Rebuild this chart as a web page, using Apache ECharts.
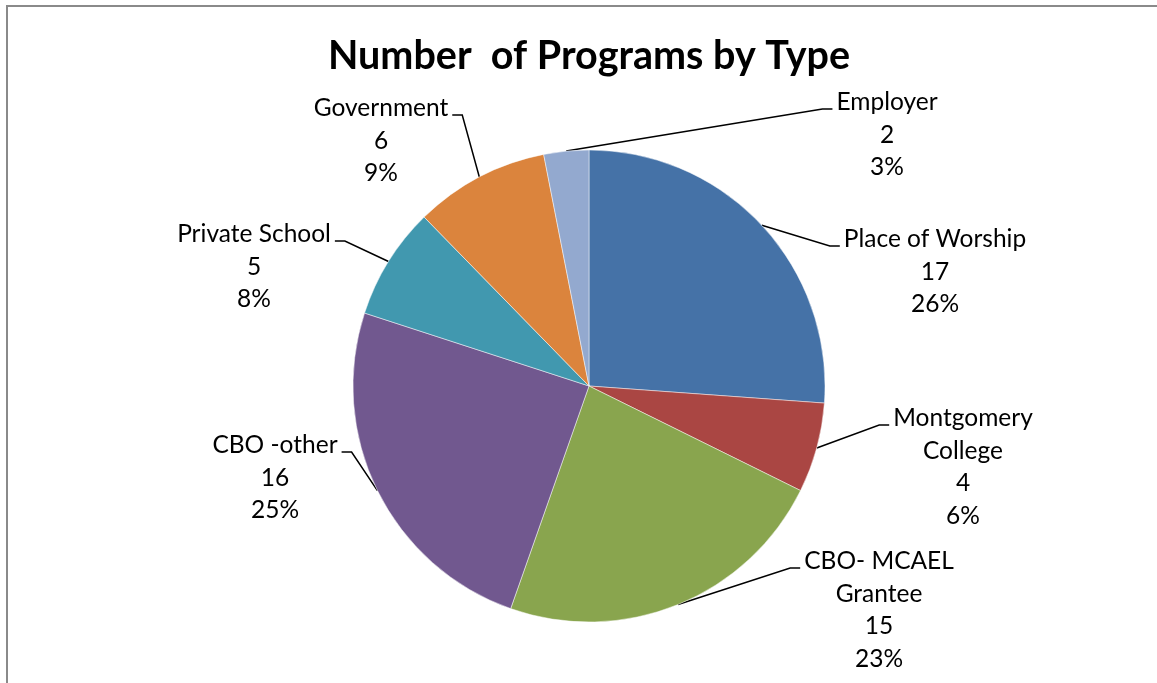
<!DOCTYPE html>
<html>
<head>
<meta charset="utf-8">
<script src="https://cdn.jsdelivr.net/npm/echarts@6/dist/echarts.min.js"></script>
<style>
html,body{margin:0;padding:0;background:#fff;}
#chart{width:1157px;height:683px;}
</style>
</head>
<body>
<div id="chart"></div>
<script>
// ---- data ----
var categories = ['Place of Worship', 'Montgomery\nCollege', 'CBO- MCAEL\nGrantee', 'CBO -other', 'Private School', 'Government', 'Employer'];
var values = [17, 4, 15, 16, 5, 6, 2];
var colors = ['#4572A7', '#AA4643', '#89A54E', '#71588F', '#4198AF', '#DB843D', '#93A9CF'];
var chartTitle = 'Number  of Programs by Type';

// ---- label placement (style, not data): [center x, top y, side] ----
var labelPlacement = [
  [935, 223, 'r'],
  [963, 402, 'r'],
  [879, 545, 'r'],
  [275, 429, 'l'],
  [254, 218, 'l'],
  [381, 92, 'l'],
  [887, 86, 'r']
];

var seriesData = categories.map(function (c, i) {
  return { name: c, value: values[i], itemStyle: { color: colors[i] } };
});

var chart = echarts.init(document.getElementById('chart'));
chart.setOption({
  backgroundColor: '#ffffff',
  animation: false,
  title: {
    text: chartTitle,
    left: 323,
    top: 31,
    textStyle: { fontFamily: 'Lato', fontWeight: 'bold', fontSize: 39.5, color: '#000' }
  },
  graphic: [{
    type: 'rect',
    shape: { x: 7, y: 6, width: 1400, height: 1000 },
    style: { fill: 'none', stroke: '#8a8a8a', lineWidth: 2 },
    silent: true
  }],
  series: [{
    type: 'pie',
    center: [589, 386],
    radius: 236,
    startAngle: 90,
    clockwise: true,
    data: seriesData,
    itemStyle: { borderColor: 'rgba(255,255,255,0.6)', borderWidth: 0.8 },
    label: {
      show: true,
      position: 'outside',
      formatter: function (p) {
        return p.name + '\n' + p.value + '\n' + Math.round(p.percent) + '%';
      },
      fontFamily: 'Lato',
      fontSize: 24.5,
      lineHeight: 32.5,
      color: '#000',
      align: 'center'
    },
    labelLine: {
      show: true,
      length: 20,
      length2: 10,
      lineStyle: { color: '#000', width: 1.5 }
    },
    labelLayout: function (params) {
      var pl = labelPlacement[params.dataIndex];
      var w = params.labelRect.width;
      var cx = pl[0], top = pl[1];
      var ly = top + 23;
      var start = params.labelLinePoints ? params.labelLinePoints[0] : null;
      var pts;
      if (pl[2] === 'r') {
        var left = cx - w / 2;
        pts = [start, [left - 14, ly], [left - 4, ly]];
      } else {
        var right = cx + w / 2;
        pts = [start, [right + 14, ly], [right + 4, ly]];
      }
      var out = { x: cx, y: top, align: 'center', verticalAlign: 'top' };
      if (start) out.labelLinePoints = pts;
      return out;
    }
  }]
});
</script>
</body>
</html>
